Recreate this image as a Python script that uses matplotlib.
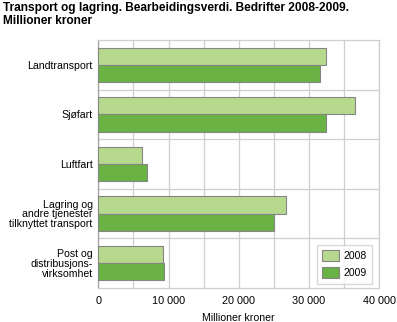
import matplotlib
matplotlib.use("Agg")
import matplotlib.pyplot as plt
from matplotlib.ticker import MultipleLocator, FuncFormatter
import numpy as np

plt.rcParams['font.family'] = ['Liberation Sans', 'DejaVu Sans']

categories = ["Landtransport", "Sjøfart", "Luftfart",
              "Lagring og\nandre tjenester\ntilknyttet transport",
              "Post og\ndistribusjons-\nvirksomhet"]
values_2008 = [32400, 36500, 6200, 26700, 9150]
values_2009 = [31500, 32450, 6900, 25050, 9300]
series_labels = ["2008", "2009"]
colors = ["#b6d98e", "#6ab244"]

W, H = 397, 322
fig = plt.figure(figsize=(W / 100, H / 100), dpi=100)
ax = fig.add_axes([98.3 / W, 1 - 288 / H, (379.3 - 98.3) / W, (288 - 40) / H])

y = np.arange(len(categories))
h = 0.345
ax.barh(y - h / 2, values_2008, height=h, color=colors[0], edgecolor="#858585",
        linewidth=0.8, label=series_labels[0], zorder=3)
ax.barh(y + h / 2, values_2009, height=h, color=colors[1], edgecolor="#858585",
        linewidth=0.8, label=series_labels[1], zorder=3)

ax.set_xlim(0, 40000)
ax.set_ylim(len(categories) - 0.5, -0.5)
ax.xaxis.set_major_locator(MultipleLocator(10000))
ax.xaxis.set_minor_locator(MultipleLocator(5000))
# thousands grouped with a space, Norwegian style
ax.xaxis.set_major_formatter(FuncFormatter(lambda v, p: f"{int(v):,}".replace(",", " ")))
ax.set_yticks(y)
ax.set_yticklabels(categories, fontsize=7.6, linespacing=0.95)
ax.set_yticks(np.arange(0.5, len(categories) - 0.5, 1), minor=True)
ax.tick_params(axis="both", which="both", length=0)
ax.tick_params(axis="x", labelsize=7.8, pad=6)
ax.tick_params(axis="y", pad=4)

ax.grid(True, which="both", axis="both", color="#cfcfcf", linewidth=0.9, zorder=0)
ax.grid(False, which="major", axis="y")
for s in ["top", "right", "bottom"]:
    ax.spines[s].set_color("#cfcfcf")
    ax.spines[s].set_linewidth(0.9)
ax.spines["left"].set_color("#a0a0a0")
ax.spines["left"].set_linewidth(0.9)

ax.set_xlabel("Millioner kroner", fontsize=7.6, labelpad=5)

leg = ax.legend(loc="lower right", fontsize=7.5, frameon=True, fancybox=False,
                edgecolor="#cfcfcf", handlelength=1.6, handleheight=1.2,
                borderpad=0.55, labelspacing=0.6, handletextpad=0.4,
                borderaxespad=0, bbox_to_anchor=(0.975, 0.016))
leg.get_frame().set_linewidth(1.0)

fig.text(3 / W, 1 - 2 / H,
         "Transport og lagring. Bearbeidingsverdi. Bedrifter 2008-2009.\nMillioner kroner",
         ha="left", va="top", fontsize=8.6, fontweight="bold", linespacing=1.1)

fig.savefig("out.png", dpi=100)
